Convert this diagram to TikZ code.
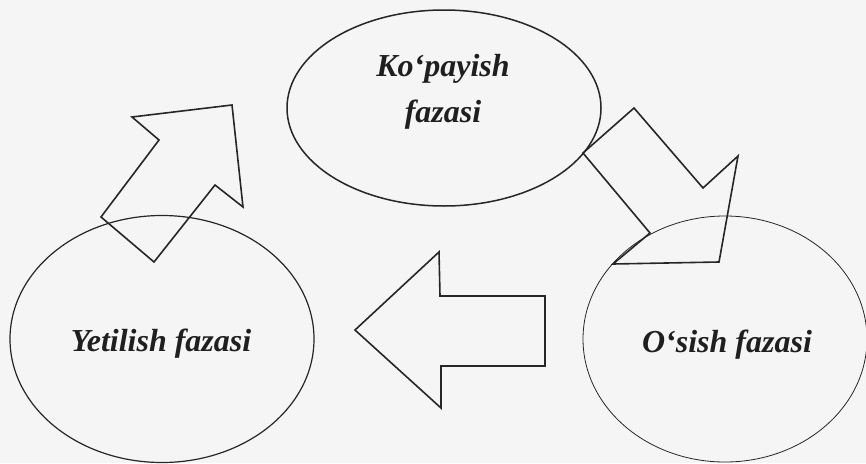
\documentclass[tikz,border=0pt]{standalone}
\usepackage{fontspec}
\setmainfont{Liberation Serif}
\usetikzlibrary{shapes.geometric}
\begin{document}
\begin{tikzpicture}[x=1pt,y=-1pt,
  phase/.style={draw=black!85, ellipse, inner sep=0pt},
  lbl/.style={font=\fontsize{32}{46}\selectfont\bfseries\itshape, align=center, text=black!88},
  blockarrow/.style={draw=black!85, line width=1.6pt, line join=miter}]
\fill[black!4] (0,0) rectangle (866,463);
\useasboundingbox (0,0) rectangle (866,463);
% phases
\node[phase, line width=1.5pt, minimum width=314, minimum height=196] (kop) at (444,108) {};
\node[phase, line width=1.2pt, minimum width=304, minimum height=247] (yet) at (162,339) {};
\node[phase, line width=0.8pt, minimum width=284, minimum height=246] (osi) at (725,339) {};
% labels
\node[lbl] (kopt) at (443,92) {Ko‘payish\\fazasi};
\node[lbl] (yett) at (161,344) {Yetilish fazasi};
\node[lbl] (osit) at (727,345) {O‘sish fazasi};
% block arrows
\draw[blockarrow] (101,217) -- (159,140) -- (132,117) -- (232,105) -- (243,207) -- (215,185) -- (154,262) -- cycle;
\draw[blockarrow] (634,108) -- (703,188) -- (738,156) -- (719,262) -- (613,264) -- (650,233) -- (583,153) -- cycle;
\draw[blockarrow] (545,296) -- (440,296) -- (439,252) -- (355,330) -- (441,408) -- (441,366) -- (545,366) -- cycle;
\end{tikzpicture}
\end{document}
